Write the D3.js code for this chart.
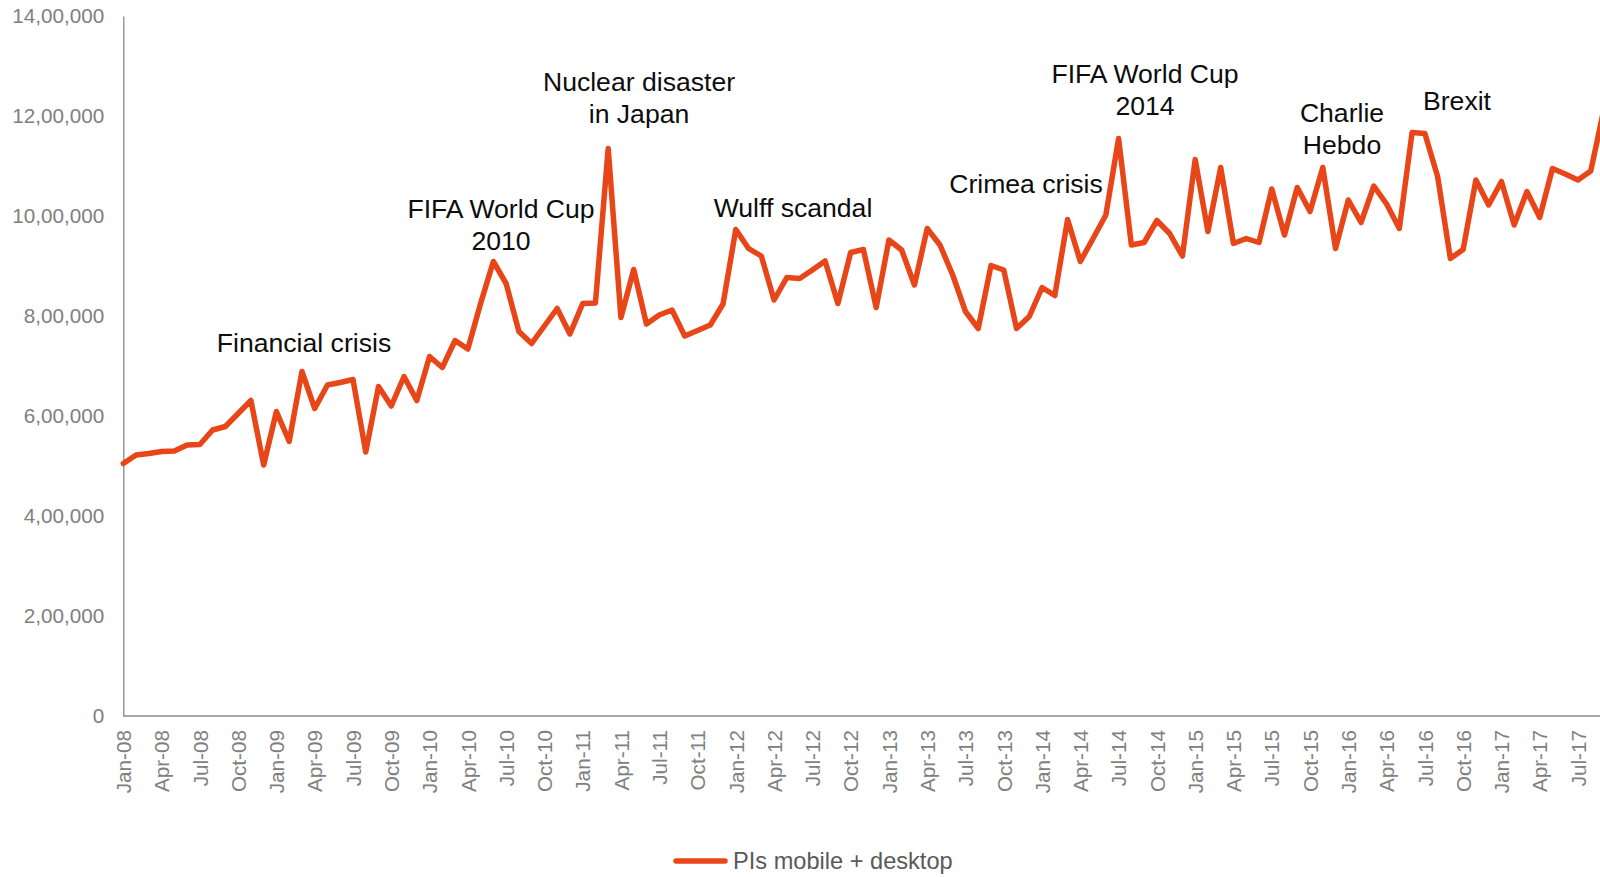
<!DOCTYPE html>
<html>
<head>
<meta charset="utf-8">
<script src="https://cdn.jsdelivr.net/npm/d3@7"></script>
<style>
  html, body { margin: 0; padding: 0; background: #fff; overflow: hidden; }
  svg { display: block; font-family: "Liberation Sans", Arial, sans-serif; }
</style>
</head>
<body>
<svg id="chart" width="1600" height="877"></svg>
<script>
// Monthly page impressions, Jan-08 onwards
const months = [
  "Jan-08","Feb-08","Mar-08","Apr-08","May-08","Jun-08","Jul-08","Aug-08","Sep-08","Oct-08","Nov-08","Dec-08",
  "Jan-09","Feb-09","Mar-09","Apr-09","May-09","Jun-09","Jul-09","Aug-09","Sep-09","Oct-09","Nov-09","Dec-09",
  "Jan-10","Feb-10","Mar-10","Apr-10","May-10","Jun-10","Jul-10","Aug-10","Sep-10","Oct-10","Nov-10","Dec-10",
  "Jan-11","Feb-11","Mar-11","Apr-11","May-11","Jun-11","Jul-11","Aug-11","Sep-11","Oct-11","Nov-11","Dec-11",
  "Jan-12","Feb-12","Mar-12","Apr-12","May-12","Jun-12","Jul-12","Aug-12","Sep-12","Oct-12","Nov-12","Dec-12",
  "Jan-13","Feb-13","Mar-13","Apr-13","May-13","Jun-13","Jul-13","Aug-13","Sep-13","Oct-13","Nov-13","Dec-13",
  "Jan-14","Feb-14","Mar-14","Apr-14","May-14","Jun-14","Jul-14","Aug-14","Sep-14","Oct-14","Nov-14","Dec-14",
  "Jan-15","Feb-15","Mar-15","Apr-15","May-15","Jun-15","Jul-15","Aug-15","Sep-15","Oct-15","Nov-15","Dec-15",
  "Jan-16","Feb-16","Mar-16","Apr-16","May-16","Jun-16","Jul-16","Aug-16","Sep-16","Oct-16","Nov-16","Dec-16",
  "Jan-17","Feb-17","Mar-17","Apr-17","May-17","Jun-17","Jul-17","Aug-17","Sep-17"
];

const impressions = [
  505000, 522000, 525000, 529000, 530000, 542000, 543000, 572000, 579000, 605000, 631000, 502000,
  609000, 549000, 689000, 615000, 662000, 667000, 673000, 528000, 659000, 620000, 679000, 631000,
  719000, 697000, 751000, 734000, 825000, 909000, 865000, 769000, 745000, 780000, 815000, 764000,
  825000, 826000, 1135000, 797000, 893000, 784000, 802000, 812000, 760000, 771000, 782000, 824000,
  973000, 935000, 920000, 832000, 877000, 875000, 892000, 910000, 825000, 927000, 933000, 817000,
  952000, 932000, 862000, 975000, 942000, 882000, 809000, 775000, 901000, 892000, 775000, 799000,
  857000, 841000, 993000, 909000, 955000, 1002000, 1155000, 942000, 947000, 991000, 965000, 920000,
  1113000, 969000, 1097000, 945000, 955000, 947000, 1054000, 962000, 1057000, 1009000, 1097000, 935000,
  1032000, 987000, 1060000, 1024000, 975000, 1167000, 1165000, 1079000, 915000, 933000, 1072000, 1022000,
  1069000, 982000, 1049000, 997000, 1095000, 1084000, 1072000, 1090000, 1210000
];

const xTickLabels = [
  "Jan-08","Apr-08","Jul-08","Oct-08","Jan-09","Apr-09","Jul-09","Oct-09",
  "Jan-10","Apr-10","Jul-10","Oct-10","Jan-11","Apr-11","Jul-11","Oct-11",
  "Jan-12","Apr-12","Jul-12","Oct-12","Jan-13","Apr-13","Jul-13","Oct-13",
  "Jan-14","Apr-14","Jul-14","Oct-14","Jan-15","Apr-15","Jul-15","Oct-15",
  "Jan-16","Apr-16","Jul-16","Oct-16","Jan-17","Apr-17","Jul-17"
];

const yTickValues = [0, 200000, 400000, 600000, 800000, 1000000, 1200000, 1400000];

const events = [
  { month: "Oct-09", lines: ["Financial crisis"] },
  { month: "Jun-10", lines: ["FIFA World Cup", "2010"] },
  { month: "Mar-11", lines: ["Nuclear disaster", "in Japan"] },
  { month: "Jan-12", lines: ["Wulff scandal"] },
  { month: "Mar-14", lines: ["Crimea crisis"] },
  { month: "Jul-14", lines: ["FIFA World Cup", "2014"] },
  { month: "Jan-15", lines: ["Charlie", "Hebdo"] },
  { month: "Jun-16", lines: ["Brexit"] }
];
// label placement (centre x, first baseline y) for each event
const eventPlacement = {
  "Oct-09": [304, 352], "Jun-10": [501, 218], "Mar-11": [639, 91], "Jan-12": [793, 217],
  "Mar-14": [1026, 193], "Jul-14": [1145, 83], "Jan-15": [1342, 122], "Jun-16": [1457, 110]
};

const seriesName = "PIs mobile + desktop";
const lineColor = "#e84619";
const axisColor = "#8a8a8a";
const labelColor = "#808080";

// Indian digit grouping, e.g. 12,00,000
function indianFormat(v) {
  const s = String(Math.round(v));
  if (s.length <= 3) return s;
  const last3 = s.slice(-3);
  let rest = s.slice(0, -3);
  const parts = [];
  while (rest.length > 2) { parts.unshift(rest.slice(-2)); rest = rest.slice(0, -2); }
  if (rest.length) parts.unshift(rest);
  return parts.join(",") + "," + last3;
}

const svg = d3.select("#chart");

const x = d3.scalePoint().domain(months).range([123.3, 1603.5]);
const y = d3.scaleLinear().domain([0, 1400000]).range([716, 16]);

// y axis
const yAxis = svg.append("g")
  .attr("transform", "translate(123.3,0)")
  .call(d3.axisLeft(y).tickValues(yTickValues).tickSize(0).tickPadding(19).tickFormat(indianFormat));
yAxis.select(".domain").attr("stroke", axisColor).attr("stroke-width", 1.3);
yAxis.selectAll("text")
  .attr("fill", labelColor)
  .style("font-size", "20.7px")
  .style("font-family", "'Liberation Sans', Arial, sans-serif");

// x axis
const xAxis = svg.append("g")
  .attr("transform", "translate(0,716)")
  .call(d3.axisBottom(x).tickValues(xTickLabels).tickSize(0).tickPadding(0));
xAxis.select(".domain")
  .attr("d", `M${x.range()[0]},0H1600`)
  .attr("stroke", axisColor).attr("stroke-width", 1.3);
xAxis.selectAll("text")
  .attr("fill", labelColor)
  .style("font-size", "20.7px")
  .style("font-family", "'Liberation Sans', Arial, sans-serif")
  .attr("text-anchor", "end")
  .attr("transform", "rotate(-90)")
  .attr("x", -14)
  .attr("y", 0)
  .attr("dy", "0.35em");

// series line
const line = d3.line()
  .x((d, i) => x(months[i]))
  .y(d => y(d));

svg.append("path")
  .datum(impressions)
  .attr("fill", "none")
  .attr("stroke", lineColor)
  .attr("stroke-width", 5.5)
  .attr("stroke-linejoin", "round")
  .attr("stroke-linecap", "round")
  .attr("d", line);

// event annotations
const ann = svg.append("g")
  .style("font-size", "26.6px")
  .attr("fill", "#0d0d0d")
  .attr("text-anchor", "middle");
events.forEach(ev => {
  const [cx, by] = eventPlacement[ev.month];
  const t = ann.append("text").attr("x", cx).attr("y", by);
  ev.lines.forEach((ln, k) => {
    t.append("tspan").attr("x", cx).attr("y", by + k * 32).text(ln);
  });
});

// legend
const legend = svg.append("g").attr("transform", "translate(0,861)");
legend.append("line")
  .attr("x1", 676).attr("x2", 725).attr("y1", 0).attr("y2", 0)
  .attr("stroke", lineColor).attr("stroke-width", 5.5).attr("stroke-linecap", "round");
legend.append("text")
  .attr("x", 733).attr("y", 0).attr("dy", "0.35em")
  .attr("fill", "#595959")
  .style("font-size", "23.6px")
  .text(seriesName);
</script>
</body>
</html>
